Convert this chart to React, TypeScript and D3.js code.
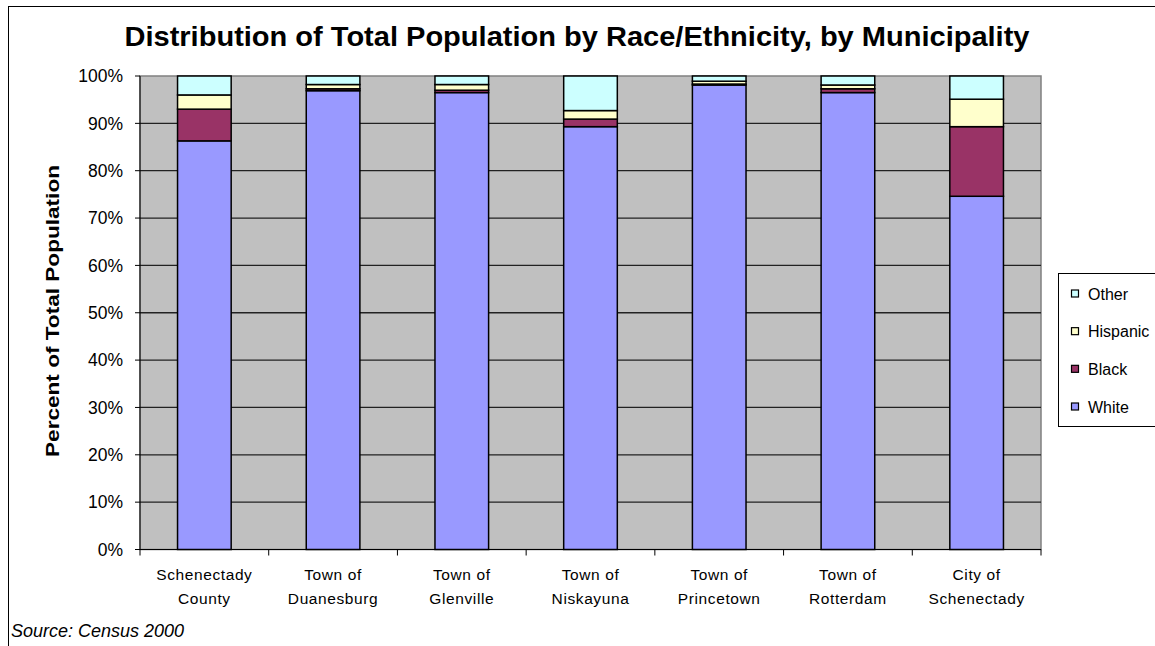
import React from "react";
import * as d3 from "d3";

const categories = [
  ["Schenectady", "County"],
  ["Town of", "Duanesburg"],
  ["Town of", "Glenville"],
  ["Town of", "Niskayuna"],
  ["Town of", "Princetown"],
  ["Town of", "Rotterdam"],
  ["City of", "Schenectady"],
];
const seriesNames = ["White", "Black", "Hispanic", "Other"];
const white = [86.3, 96.9, 96.5, 89.3, 98.1, 96.5, 74.6];
const black = [6.7, 0.4, 0.5, 1.6, 0.2, 0.8, 14.7];
const hispanic = [3.0, 0.9, 1.2, 1.8, 0.6, 0.8, 5.8];
const other = [4.0, 1.8, 1.8, 7.3, 1.1, 1.9, 4.9];
const yTicks = [0, 10, 20, 30, 40, 50, 60, 70, 80, 90, 100];
const colors: Record<string, string> = {
  White: "#9999FF",
  Black: "#993366",
  Hispanic: "#FFFFCC",
  Other: "#CCFFFF",
};

const FONT = "'Liberation Sans', Arial, sans-serif";

export default function App() {
  const left = 140, right = 1041, top = 76, bottom = 549.5;
  const idx = categories.map((_, i) => i);
  const x = d3.scaleBand<number>().domain(idx).range([left, right]).paddingInner(1.4 / 2.4).paddingOuter(0.7 / 2.4);
  const band = (right - left) / categories.length;
  const y = d3.scaleLinear().domain([0, 100]).range([bottom, top]);

  const rows = idx.map((i) => ({ i, White: white[i], Black: black[i], Hispanic: hispanic[i], Other: other[i] }));
  const stack = d3.stack<any>().keys(seriesNames)(rows);

  const legendItems = ["Other", "Hispanic", "Black", "White"];
  const legendY = d3.scalePoint<string>().domain(legendItems).range([294, 407]);

  return (
    <svg width={1155} height={646} style={{ position: "absolute", left: 0, top: 0 }} fontFamily={FONT}>
      <rect x={0} y={0} width={1155} height={646} fill="#fff" />
      <rect x={8.5} y={6.5} width={1160} height={660} fill="#fff" stroke="#000" strokeWidth={1} />
      <text x={577} y={46} textAnchor="middle" fontSize={27} fontWeight="bold" textLength={905} lengthAdjust="spacingAndGlyphs">
        Distribution of Total Population by Race/Ethnicity, by Municipality
      </text>
      {/* plot area */}
      <rect x={left} y={top} width={right - left} height={bottom - top} fill="#C0C0C0" stroke="#808080" strokeWidth={1.5} />
      {yTicks.map((t) => (
        <g key={t}>
          {t > 0 && t < 100 && (
            <line x1={left} x2={right} y1={y(t)} y2={y(t)} stroke="#222" strokeWidth={1.3} />
          )}
          <line x1={left - 5} x2={left} y1={y(t)} y2={y(t)} stroke="#000" strokeWidth={1} />
          <text x={123} y={y(t)} dy="0.36em" textAnchor="end" fontSize={17.5}>
            {t}%
          </text>
        </g>
      ))}
      {stack.map((s) =>
        s.map((d, i) => (
          <rect
            key={s.key + i}
            x={x(i)!}
            y={y(d[1])}
            width={x.bandwidth()}
            height={y(d[0]) - y(d[1])}
            fill={colors[s.key]}
            stroke="#000"
            strokeWidth={1.5}
          />
        ))
      )}
      <line x1={left} x2={left} y1={top} y2={bottom} stroke="#000" strokeWidth={1} />
      <line x1={left} x2={right} y1={bottom} y2={bottom} stroke="#000" strokeWidth={1} />
      {d3.range(categories.length + 1).map((k) => (
        <line key={k} x1={left + k * band} x2={left + k * band} y1={bottom} y2={bottom + 6} stroke="#000" strokeWidth={1} />
      ))}
      {categories.map((c, i) => {
        const cx = x(i)! + x.bandwidth() / 2;
        return (
          <text key={i} textAnchor="middle" fontSize={15.5} letterSpacing={0.6}>
            <tspan x={cx} y={580}>{c[0]}</tspan>
            <tspan x={cx} y={604}>{c[1]}</tspan>
          </text>
        );
      })}
      <text transform={`translate(59, 311) rotate(-90)`} textAnchor="middle" fontSize={18} fontWeight="bold" textLength={292} lengthAdjust="spacingAndGlyphs">
        Percent of Total Population
      </text>
      <text x={11} y={637} fontSize={18} fontStyle="italic">
        Source: Census 2000
      </text>
      {/* legend */}
      <rect x={1058.5} y={273.5} width={120} height={153} fill="#fff" stroke="#000" strokeWidth={1} />
      {legendItems.map((k) => (
        <g key={k}>
          <rect x={1071.5} y={legendY(k)! - 4} width={7} height={7} fill={colors[k]} stroke="#000" strokeWidth={1.2} />
          <text x={1088} y={legendY(k)!} dy="0.36em" fontSize={16}>
            {k}
          </text>
        </g>
      ))}
    </svg>
  );
}
